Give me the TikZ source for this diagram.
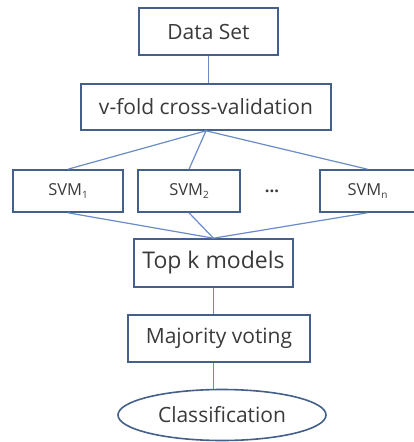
\documentclass[tikz,border=0pt]{standalone}
\usepackage{fontspec}
\setmainfont{Open Sans}
\usetikzlibrary{shapes.geometric}
\definecolor{boxline}{HTML}{44608A}
\definecolor{linkline}{HTML}{6A8CC6}
\definecolor{txt}{HTML}{3A3A3A}
\newcommand{\sub}[1]{\raisebox{-3pt}{\fontsize{10}{10}\selectfont #1}}
\tikzset{
  stage/.style={draw=boxline, line width=1.6pt, text=txt, inner sep=0pt,
    font=\fontsize{21}{24}\selectfont},
  model/.style={stage, minimum height=42pt, font=\fontsize{16.5}{19}\selectfont},
  link/.style={draw=linkline, line width=1.2pt}
}
\begin{document}
\begin{tikzpicture}[x=1pt, y=-1pt]
      \useasboundingbox (0,0) rectangle (413,442);
      % pipeline boxes
      \node[stage, minimum width=139pt, minimum height=47pt] (ds) at (208.5,31.5) {Data Set};
      \node[stage, minimum width=250pt, minimum height=46pt] (cv) at (206,107) {v-fold cross-validation};
      \node[model, minimum width=110pt] (s1) at (68,191) {SVM\sub{1}};
      \node[model, minimum width=102pt] (s2) at (189,191) {SVM\sub{2}};
      \node[text=txt, font=\fontsize{16.5}{19}\selectfont] (dots) at (272,191) {\textbf{...}};
      \node[model, minimum width=95pt] (sn) at (367.5,191) {SVM\sub{n}};
      \node[stage, minimum width=159pt, minimum height=48pt, font=\fontsize{23}{26}\selectfont] (top) at (213.5,263) {Top k models};
      \node[stage, minimum width=182pt, minimum height=47pt] (vote) at (219,338.5) {Majority voting};
      \node[stage, ellipse, minimum width=208pt, minimum height=51pt] (cls) at (222,415) {Classification};
      % connectors
      \path[link] (ds.south) -- (ds.south |- cv.north);
      \path[link] (cv.south) edge (s1.north) edge (s2.north) edge (sn.north);
      \path[link] (top.north) edge (s1.south) edge (s2.south) edge (sn.south);
      \path[link] (top.south) -- (top.south |- vote.north);
      \path[link] (vote.south -| top.south) -- (top.south |- cls.north);
    \end{tikzpicture}
\end{document}
